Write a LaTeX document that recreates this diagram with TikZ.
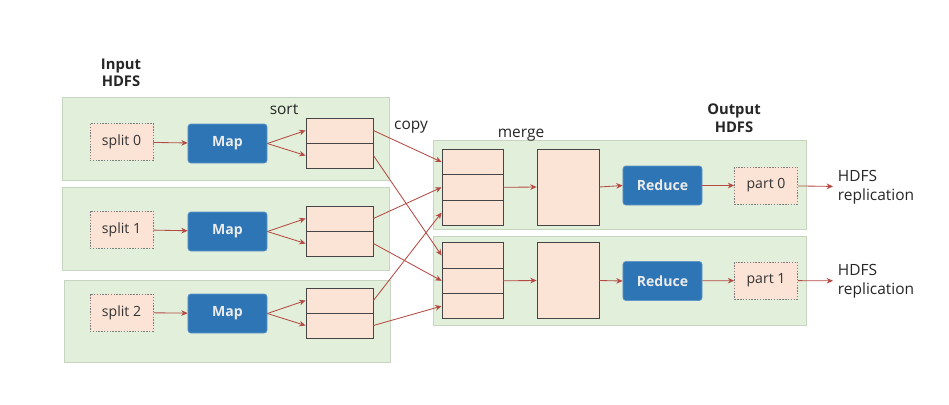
\documentclass[tikz,border=0pt]{standalone}
\usepackage{fontspec}
\setmainfont{Open Sans}
\usetikzlibrary{arrows.meta}

\definecolor{panelgreen}{HTML}{E2EFDA}
\definecolor{panelline}{HTML}{C6D5C0}
\definecolor{boxpink}{HTML}{FBE3D6}
\definecolor{taskblue}{HTML}{2E75B6}
\definecolor{flowred}{HTML}{B54A44}
\definecolor{boxline}{HTML}{454545}

\tikzset{
	panel/.style={fill=panelgreen, draw=panelline, line width=0.6pt},
	filebox/.style={fill=boxpink, draw=boxline!70, dash pattern=on 1pt off 1pt, line width=0.5pt,
		text=black!80, font=\fontsize{10}{12}\selectfont, minimum width=1.575cm, minimum height=0.92cm},
	taskbox/.style={fill=taskblue, draw=taskblue!75!white, line width=0.5pt, rounded corners=2pt,
		text=white!92!black, font=\fontsize{10}{12}\selectfont\bfseries,
		minimum width=1.975cm, minimum height=0.975cm},
	sortcell/.style={fill=boxpink, draw=boxline, line width=0.6pt, minimum width=1.675cm, minimum height=0.625cm},
	mergecell/.style={fill=boxpink, draw=boxline, line width=0.6pt, minimum width=1.525cm, minimum height=0.633cm},
	bufbox/.style={fill=boxpink, draw=boxline, line width=0.6pt, minimum width=1.55cm, minimum height=1.9cm},
	headtext/.style={align=center, font=\fontsize{10.5}{12.5}\selectfont\bfseries, text=black!85},
	steptext/.style={anchor=base, font=\fontsize{11}{13}\selectfont, text=black!85},
	outtext/.style={anchor=west, align=left, font=\fontsize{11}{13.4}\selectfont, text=black!85},
	flow/.style={-{Stealth[length=4.5pt,width=4pt]}, draw=flowred, line width=0.6pt},
}

\begin{document}
\begin{tikzpicture}[x=0.025cm,y=-0.025cm]
		\useasboundingbox[fill=white] (0,0) rectangle (949,404);
		% green panels
		\draw[panel] (62,97) rectangle (389,180);
		\draw[panel] (62,187) rectangle (389,270);
		\draw[panel] (64,280) rectangle (390,362);
		\draw[panel] (433,140) rectangle (806,229);
		\draw[panel] (433,236) rectangle (806,325);
		% labels
		\node[headtext] (inlabel) at (121,73) {Input\\HDFS};
		\node[headtext] (outlabel) at (734,118) {Output\\HDFS};
		\node[steptext] (sortlabel) at (284,114) {sort};
		\node[steptext] (copylabel) at (411,129) {copy};
		\node[steptext] (mergelabel) at (521,137) {merge};
		% map side
		\node[filebox] (split0) at (121.5,142) {split 0};
		\node[filebox] (split1) at (121.5,229.5) {split 1};
		\node[filebox] (split2) at (121.5,312.5) {split 2};
		\node[taskbox] (map0) at (227.5,143.5) {Map};
		\node[taskbox] (map1) at (227.5,231.5) {Map};
		\node[taskbox] (map2) at (227.5,313.5) {Map};
		\node[sortcell] (sort0a) at (339.5,130.5) {};
		\node[sortcell] (sort0b) at (339.5,155.5) {};
		\node[sortcell] (sort1a) at (339.5,218.5) {};
		\node[sortcell] (sort1b) at (339.5,243.5) {};
		\node[sortcell] (sort2a) at (339.5,300.5) {};
		\node[sortcell] (sort2b) at (339.5,325.5) {};
		\draw[flow] (split0) -- (map0);
		\draw[flow] (split1) -- (map1);
		\draw[flow] (split2) -- (map2);
		\draw[flow] (map0.east) -- (sort0a.west);
		\draw[flow] (map0.east) -- (sort0b.west);
		\draw[flow] (map1.east) -- (sort1a.west);
		\draw[flow] (map1.east) -- (sort1b.west);
		\draw[flow] (map2.east) -- (sort2a.west);
		\draw[flow] (map2.east) -- (sort2b.west);
		% reduce side
		\node[mergecell] (mrgA1) at (472.5,162) {};
		\node[mergecell] (mrgA2) at (472.5,187.3) {};
		\node[mergecell] (mrgA3) at (472.5,212.6) {};
		\node[mergecell] (mrgB1) at (472.5,255.5) {};
		\node[mergecell] (mrgB2) at (472.5,280.8) {};
		\node[mergecell] (mrgB3) at (472.5,306.1) {};
		\node[bufbox] (bufA) at (568,187) {};
		\node[bufbox] (bufB) at (568,280.5) {};
		\node[taskbox] (redA) at (662.5,185.5) {Reduce};
		\node[taskbox] (redB) at (662.5,281) {Reduce};
		\node[filebox] (part0) at (766,185.5) {part 0};
		\node[filebox] (part1) at (766,280.5) {part 1};
		\node[outtext] (repA) at (833,187) {HDFS\\replication};
		\node[outtext] (repB) at (833,281) {HDFS\\replication};
		% copy
		\draw[flow] (sort0a.east) -- (mrgA1.west);
		\draw[flow] (sort0b.east) -- (mrgB1.west);
		\draw[flow] (sort1a.east) -- (mrgA2.west);
		\draw[flow] (sort1b.east) -- (mrgB2.west);
		\draw[flow] (sort2a.east) -- (mrgA3.west);
		\draw[flow] (sort2b.east) -- (mrgB3.west);
		\draw[flow] (mrgA2.east) -- (bufA.west);
		\draw[flow] (mrgB2.east) -- (bufB.west);
		\draw[flow] (bufA.east) -- (redA.west);
		\draw[flow] (bufB.east) -- (redB.west);
		\draw[flow] (redA) -- (part0);
		\draw[flow] (redB) -- (part1);
		\draw[flow] (part0) -- (repA);
		\draw[flow] (part1) -- (repB);
\end{tikzpicture}
\end{document}
